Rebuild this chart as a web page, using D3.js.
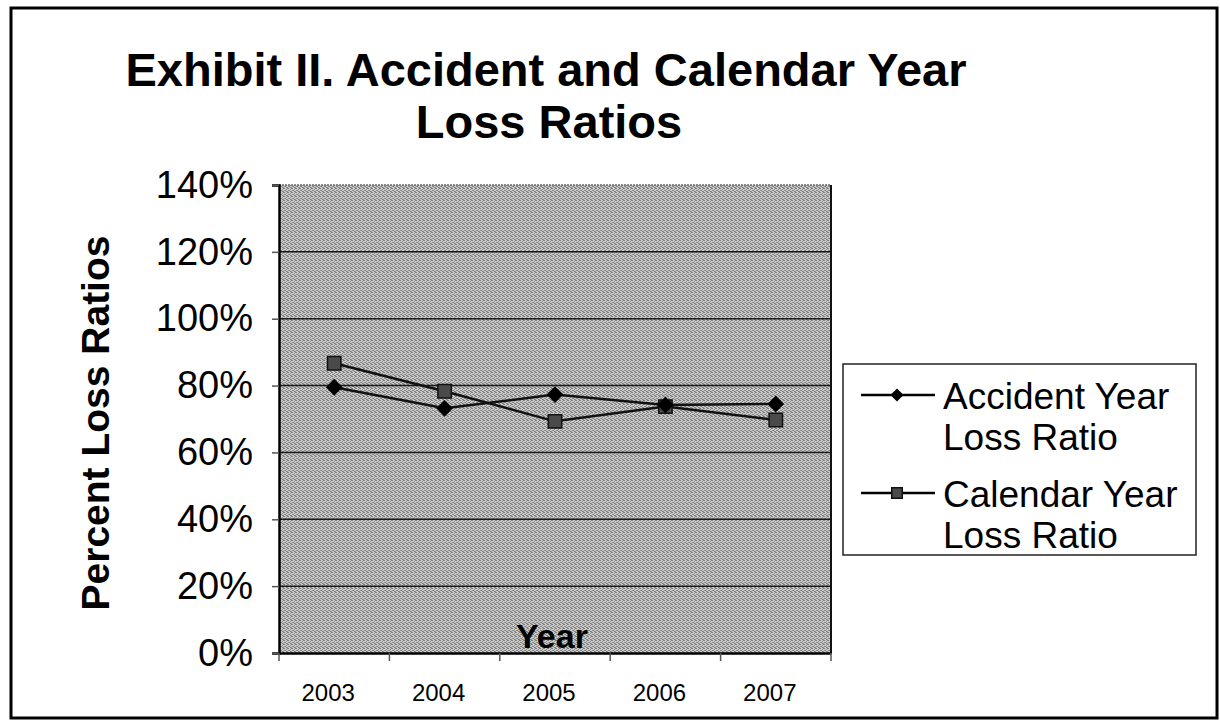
<!DOCTYPE html>
<html>
<head>
<meta charset="utf-8">
<script src="https://cdn.jsdelivr.net/npm/d3@7"></script>
<style>
  body { margin: 0; background: #fff; }
  text { font-family: "Liberation Sans", Arial, sans-serif; fill: #000; }
</style>
</head>
<body>
<svg id="chart" width="1220" height="721"></svg>
<script>
const years = ["2003", "2004", "2005", "2006", "2007"];
const accidentYear = [0.795, 0.732, 0.773, 0.742, 0.745];
const calendarYear = [0.867, 0.783, 0.693, 0.737, 0.697];
const yTicks = [0, 0.2, 0.4, 0.6, 0.8, 1.0, 1.2, 1.4];
const seriesNames = [["Accident Year", "Loss Ratio"], ["Calendar Year", "Loss Ratio"]];

const svg = d3.select("#chart");
const width = 1220, height = 721;

// halftone grey for the plot area (scanned look)
const defs = svg.append("defs");
const pat = defs.append("pattern")
  .attr("id", "dither")
  .attr("width", 4).attr("height", 4)
  .attr("patternUnits", "userSpaceOnUse");
pat.append("rect").attr("width", 4).attr("height", 4).attr("fill", "#cbcbcb");
[[0, 0], [2, 1], [1, 2], [3, 3], [2, 3], [0, 2], [3, 0]].forEach(([px, py], k) => {
  pat.append("rect")
    .attr("x", px).attr("y", py)
    .attr("width", 1).attr("height", 1)
    .attr("fill", k % 2 ? "#8e8e8e" : "#7c7c7c");
});

// outer frame
svg.append("rect")
  .attr("x", 11).attr("y", 8)
  .attr("width", 1206).attr("height", 710)
  .attr("fill", "white")
  .attr("stroke", "#000")
  .attr("stroke-width", 3);

// title
svg.append("text")
  .attr("x", 546).attr("y", 86)
  .attr("text-anchor", "middle")
  .attr("font-size", "47px").attr("font-weight", "bold")
  .text("Exhibit II. Accident and Calendar Year");
svg.append("text")
  .attr("x", 549).attr("y", 138)
  .attr("text-anchor", "middle")
  .attr("font-size", "47px").attr("font-weight", "bold")
  .text("Loss Ratios");

// scales
const plot = { left: 279, right: 831, top: 185, bottom: 653 };
const x = d3.scaleBand().domain(years).range([plot.left, plot.right]).padding(0);
const y = d3.scaleLinear().domain([0, 1.4]).range([plot.bottom, plot.top]);

// plot background
svg.append("rect")
  .attr("x", plot.left).attr("y", plot.top)
  .attr("width", plot.right - plot.left).attr("height", plot.bottom - plot.top)
  .attr("fill", "url(#dither)");

// gridlines (top one is a faint dotted border)
svg.append("g")
  .selectAll("line")
  .data(yTicks.slice(1))
  .join("line")
  .attr("x1", plot.left).attr("x2", plot.right)
  .attr("y1", d => y(d)).attr("y2", d => y(d))
  .attr("stroke", d => d === 1.4 ? "#666" : "#1a1a1a")
  .attr("stroke-dasharray", d => d === 1.4 ? "2,1" : null)
  .attr("stroke-width", 1.5);

// right edge of plot
svg.append("line")
  .attr("x1", plot.right).attr("x2", plot.right)
  .attr("y1", plot.top).attr("y2", plot.bottom)
  .attr("stroke", "#111").attr("stroke-width", 2);

// y axis
const yAxis = d3.axisLeft(y)
  .tickValues(yTicks)
  .tickSize(7)
  .tickFormat(d3.format(".0%"));
const gy = svg.append("g")
  .attr("transform", `translate(${plot.left},0)`)
  .call(yAxis);
gy.select(".domain").attr("stroke", "#000").attr("stroke-width", 2.5);
gy.selectAll(".tick line").attr("stroke", "#555").attr("stroke-width", 1.5);
gy.selectAll(".tick text")
  .attr("x", -26)
  .attr("font-size", "38px")
  .attr("font-family", "Liberation Sans, Arial, sans-serif")
  .attr("fill", "#000");

// x axis
const xAxis = d3.axisBottom(x).tickSize(0).tickPadding(0);
const gx = svg.append("g")
  .attr("transform", `translate(0,${plot.bottom})`)
  .call(xAxis);
gx.select(".domain").attr("stroke", "#000").attr("stroke-width", 2.5);
gx.selectAll(".tick text")
  .attr("y", 48)
  .attr("dy", 0)
  .attr("dx", -6)
  .attr("font-size", "24px")
  .attr("font-family", "Liberation Sans, Arial, sans-serif")
  .attr("fill", "#000");

// category boundary ticks
const bounds = years.map(d => x(d)).concat([x(years[years.length - 1]) + x.bandwidth()]);
svg.append("g")
  .selectAll("line")
  .data(bounds)
  .join("line")
  .attr("x1", d => d).attr("x2", d => d)
  .attr("y1", plot.bottom).attr("y2", plot.bottom + 8)
  .attr("stroke", "#555").attr("stroke-width", 1.5);

// axis titles
svg.append("text")
  .attr("x", 552).attr("y", 648)
  .attr("text-anchor", "middle")
  .attr("font-size", "34px").attr("font-weight", "bold")
  .text("Year");

svg.append("text")
  .attr("transform", "translate(109,423) rotate(-90)")
  .attr("text-anchor", "middle")
  .attr("font-size", "39px").attr("font-weight", "bold")
  .text("Percent Loss Ratios");

// series
const cx = i => x(years[i]) + x.bandwidth() / 2;
const line = d3.line().x((d, i) => cx(i)).y(d => y(d));

svg.append("path")
  .datum(calendarYear)
  .attr("d", line)
  .attr("fill", "none")
  .attr("stroke", "#111")
  .attr("stroke-width", 2.5);

svg.append("path")
  .datum(accidentYear)
  .attr("d", line)
  .attr("fill", "none")
  .attr("stroke", "#111")
  .attr("stroke-width", 2.5);

const diamond = d3.symbol().type(d3.symbolDiamond2).size(180);
const square = d3.symbol().type(d3.symbolSquare).size(180);

svg.append("g")
  .selectAll("path")
  .data(calendarYear)
  .join("path")
  .attr("transform", (d, i) => `translate(${cx(i)},${y(d)})`)
  .attr("d", square)
  .attr("fill", "#4a4a4a")
  .attr("stroke", "#111")
  .attr("stroke-width", 1.5);

svg.append("g")
  .selectAll("path")
  .data(accidentYear)
  .join("path")
  .attr("transform", (d, i) => `translate(${cx(i)},${y(d)})`)
  .attr("d", diamond)
  .attr("fill", "#000");

// legend
const legend = svg.append("g");
legend.append("rect")
  .attr("x", 843).attr("y", 364)
  .attr("width", 353).attr("height", 191)
  .attr("fill", "white")
  .attr("stroke", "#222")
  .attr("stroke-width", 1.5);

const legendY = [395, 493];
const legendDiamond = d3.symbol().type(d3.symbolDiamond2).size(110);
const legendSquare = d3.symbol().type(d3.symbolSquare).size(110);
seriesNames.forEach((lines, i) => {
  const ly = legendY[i];
  legend.append("line")
    .attr("x1", 861).attr("x2", 935)
    .attr("y1", ly).attr("y2", ly)
    .attr("stroke", "#000").attr("stroke-width", 2.5);
  legend.append("path")
    .attr("transform", `translate(897,${ly})`)
    .attr("d", i === 0 ? legendDiamond : legendSquare)
    .attr("fill", i === 0 ? "#000" : "#4a4a4a")
    .attr("stroke", i === 0 ? "none" : "#111")
    .attr("stroke-width", 1.5);
  lines.forEach((t, j) => {
    legend.append("text")
      .attr("x", 943).attr("y", ly + 14 + j * 41)
      .attr("font-size", "37px")
      .text(t);
  });
});
</script>
</body>
</html>
